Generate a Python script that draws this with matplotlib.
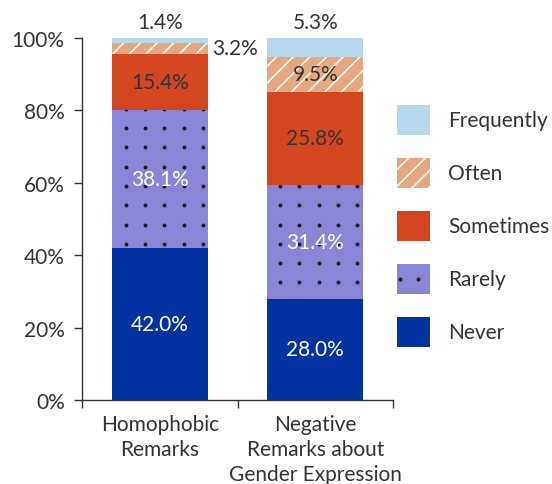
import numpy as np
import matplotlib
matplotlib.use("Agg")
import matplotlib.pyplot as plt
from matplotlib.patches import Rectangle
from matplotlib.transforms import IdentityTransform

# ---- data ----
categories = ["Homophobic\nRemarks", "Negative\nRemarks about\nGender Expression"]
levels = ["Never", "Rarely", "Sometimes", "Often", "Frequently"]
never = [42.0, 28.0]
rarely = [38.1, 31.4]
sometimes = [15.4, 25.8]
often = [3.2, 9.5]
frequently = [1.4, 5.3]
yticks = [0, 20, 40, 60, 80, 100]
ytick_labels = ["0%", "20%", "40%", "60%", "80%", "100%"]

series = [never, rarely, sometimes, often, frequently]
colors = ["#0033A0", "#8B85D7", "#D4461F", "#E6A77E", "#B6D8EB"]
hatches = [None, None, None, "//", None]
label_colors = ["white", "white", "#333333", "#333333", "#333333"]

plt.rcParams["font.family"] = ["Lato", "DejaVu Sans"]
plt.rcParams["hatch.linewidth"] = 1.1
TXT = "#333333"
FS = 15
W, H = 552, 485

fig = plt.figure(figsize=(W / 100, H / 100), dpi=100)
ax = fig.add_axes([82 / W, 1 - 401 / H, (393 - 82) / W, (401 - 39) / H])

x = np.arange(len(categories))
width = 0.62
bottom = np.zeros(len(categories))
containers = []
for vals, col, h in zip(series, colors, hatches):
    if h:
        bc = ax.bar(x, vals, width, bottom=bottom, color=col, edgecolor="white",
                    linewidth=0, hatch=h)
    else:
        bc = ax.bar(x, vals, width, bottom=bottom, color=col, linewidth=0)
    containers.append(bc)
    bottom = bottom + np.array(vals)

ax.set_xlim(-0.5, 1.5)
ax.set_ylim(0, 100)
ax.set_yticks(yticks)
ax.set_yticklabels(ytick_labels)
ax.set_xticks([-0.5, 0.5, 1.5])
ax.set_xticklabels([])
ax.set_xticks(x, minor=True)
ax.set_xticklabels(categories, minor=True, linespacing=1.32)
ax.tick_params(axis="x", which="minor", length=0, pad=10, labelsize=FS, colors=TXT)
ax.tick_params(axis="x", which="major", length=5.5, width=1, color=TXT)
ax.tick_params(axis="y", length=5.5, width=1, pad=7, labelsize=FS, colors=TXT)
for s in ["top", "right"]:
    ax.spines[s].set_visible(False)
for s in ["left", "bottom"]:
    ax.spines[s].set_color(TXT)
    ax.spines[s].set_linewidth(1)

# value labels
for li, (bc, vals) in enumerate(zip(containers, series)):
    for rect, v in zip(bc.patches, vals):
        cx = rect.get_x() + rect.get_width() / 2
        cy = rect.get_y() + rect.get_height() / 2
        txt = f"{v:.1f}%"
        if levels[li] == "Frequently":
            ax.annotate(txt, (cx, rect.get_y() + rect.get_height()), xytext=(0, 7),
                        textcoords="offset points", ha="center", va="baseline",
                        fontsize=FS, color=TXT, zorder=5)
        elif v < 5:
            ax.annotate(txt, (rect.get_x() + rect.get_width(), cy), xytext=(3, 0),
                        textcoords="offset points", ha="left", va="center",
                        fontsize=FS, color=TXT, zorder=5)
        else:
            ax.text(cx, cy, txt, ha="center", va="center", fontsize=FS,
                    color=label_colors[li], zorder=5)

# dot texture on the "Rarely" segments
fig.canvas.draw()
step = 19.3
x0, y0 = 125.7, H - 129
for rect in containers[1].patches:
    bb = rect.get_window_extent()
    xs = x0 + step * np.arange(np.floor((bb.x0 - x0) / step), np.ceil((bb.x1 - x0) / step) + 1)
    ys = y0 + step * np.arange(np.floor((bb.y0 - y0) / step), np.ceil((bb.y1 - y0) / step) + 1)
    gx, gy = np.meshgrid(xs, ys)
    sc = ax.scatter(gx.ravel(), gy.ravel(), s=8, color="#1a1a1a", linewidths=0,
                    transform=IdentityTransform(), zorder=3)
    sc.set_clip_path(rect)

# legend (drawn as figure artists, top entry = last level)
sw_x, sw_w, sw_h = 397, 33, 30
first_top, pitch = 106, 53
for i, li in enumerate(range(len(levels) - 1, -1, -1)):
    top = first_top + pitch * i
    r = Rectangle((sw_x / W, 1 - (top + sw_h) / H), sw_w / W, sw_h / H,
                  transform=fig.transFigure, facecolor=colors[li],
                  edgecolor="white" if hatches[li] else "none", linewidth=0,
                  hatch=hatches[li])
    fig.add_artist(r)
    if levels[li] == "Rarely":
        fig.add_artist(plt.Line2D([(sw_x + 3) / W, (sw_x + 21) / W],
                                  [1 - (top + 15) / H] * 2, transform=fig.transFigure,
                                  linestyle="none", marker="o", markersize=2.9,
                                  markeredgewidth=0, color="#1a1a1a"))
    fig.text(448 / W, 1 - (top + sw_h / 2) / H, levels[li], ha="left", va="center",
             fontsize=FS, color=TXT)

fig.savefig("out.png", dpi=100)
